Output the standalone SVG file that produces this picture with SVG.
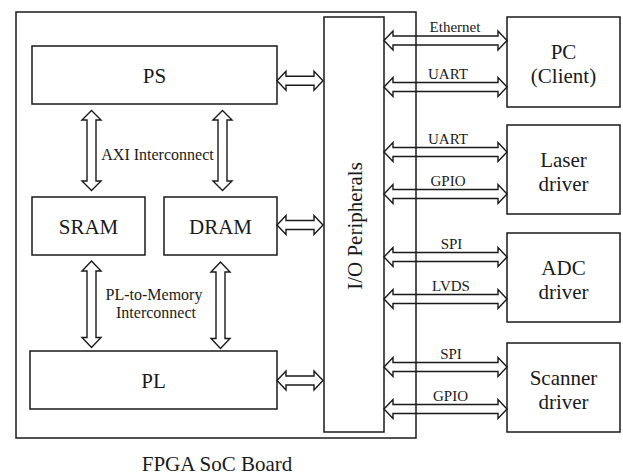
<svg xmlns="http://www.w3.org/2000/svg" xmlns:xlink="http://www.w3.org/1999/xlink" width="623" height="476" viewBox="0 0 623 476">
<style>
.box{fill:none;stroke:#1a1a1a;stroke-width:1.5}
.arr{fill:none;stroke:#1a1a1a;stroke-width:1.4;stroke-linejoin:miter}
text{font-family:'Liberation Serif','DejaVu Serif',serif;fill:#1a1a1a;text-anchor:middle}
.big{font-size:21px}
.lbl{font-size:15px}
.mid{font-size:16px}
</style>
<defs>
<path id="harrR" d="M384,0 L393,-9.5 L393,-4.5 L498,-4.5 L498,-9.5 L507,0 L498,9.5 L498,4.5 L393,4.5 L393,9.5 Z"/>
<path id="harrL" d="M277,0 L286,-9.5 L286,-4.5 L314,-4.5 L314,-9.5 L323,0 L314,9.5 L314,4.5 L286,4.5 L286,9.5 Z"/>
</defs>
<rect width="623" height="476" fill="#ffffff"/>
<g id="board">
<rect class="box" x="16" y="12" width="400" height="426"/>
<text class="big" x="217" y="471">FPGA SoC Board</text>
</g>
<g id="ps"><rect class="box" x="32" y="46" width="245" height="58"/><text class="big" x="154.5" y="83">PS</text></g>
<g id="sram"><rect class="box" x="32" y="197" width="113" height="58"/><text class="big" x="88.5" y="234">SRAM</text></g>
<g id="dram"><rect class="box" x="164" y="197" width="113" height="58"/><text class="big" x="220.5" y="234">DRAM</text></g>
<g id="pl"><rect class="box" x="30" y="351" width="247" height="58"/><text class="big" x="153.5" y="388">PL</text></g>
<g id="io"><rect class="box" x="324" y="17" width="60" height="415"/><text class="big" transform="translate(362,226) rotate(-90)" x="0" y="0">I/O Peripherals</text></g>
<g id="pc"><rect class="box" x="507" y="17" width="113" height="90"/><text class="big" x="563.5" y="59">PC</text><text class="big" x="563.5" y="83">(Client)</text></g>
<g id="laser"><rect class="box" x="507" y="125" width="113" height="89"/><text class="big" x="563.5" y="166.5">Laser</text><text class="big" x="563.5" y="190.5">driver</text></g>
<g id="adc"><rect class="box" x="507" y="233" width="113" height="89"/><text class="big" x="563.5" y="274.5">ADC</text><text class="big" x="563.5" y="298.5">driver</text></g>
<g id="scanner"><rect class="box" x="507" y="343" width="113" height="89"/><text class="big" x="563.5" y="384.5">Scanner</text><text class="big" x="563.5" y="408.5">driver</text></g>
<g id="connectors">
<path class="arr" d="M91.5,110.5 L101,120 L96,120 L96,181 L101,181 L91.5,190.5 L82,181 L87,181 L87,120 L82,120 Z"/>
<path class="arr" d="M222.5,110.5 L232,120 L227,120 L227,181 L232,181 L222.5,190.5 L213,181 L218,181 L218,120 L213,120 Z"/>
<path class="arr" d="M91.5,261 L101,271 L96,271 L96,337.5 L101,337.5 L91.5,347.5 L82,337.5 L87,337.5 L87,271 L82,271 Z"/>
<path class="arr" d="M220.5,262 L230,272 L225,272 L225,338.5 L230,338.5 L220.5,348.5 L211,338.5 L216,338.5 L216,272 L211,272 Z"/>
<use class="arr" href="#harrL" y="80.7"/>
<use class="arr" href="#harrL" y="225"/>
<use class="arr" href="#harrL" y="380.5"/>
<use class="arr" href="#harrR" y="40.5"/>
<use class="arr" href="#harrR" y="87"/>
<use class="arr" href="#harrR" y="152"/>
<use class="arr" href="#harrR" y="194"/>
<use class="arr" href="#harrR" y="257"/>
<use class="arr" href="#harrR" y="299"/>
<use class="arr" href="#harrR" y="367"/>
<use class="arr" href="#harrR" y="409"/>
<text class="mid" x="157.5" y="160">AXI Interconnect</text>
<text class="mid" x="154" y="300">PL-to-Memory</text>
<text class="mid" x="156" y="318">Interconnect</text>
<text class="lbl" x="455" y="31.5">Ethernet</text>
<text class="lbl" x="448" y="79">UART</text>
<text class="lbl" x="448" y="144">UART</text>
<text class="lbl" x="448" y="186">GPIO</text>
<text class="lbl" x="451.5" y="249">SPI</text>
<text class="lbl" x="451" y="291">LVDS</text>
<text class="lbl" x="451" y="359">SPI</text>
<text class="lbl" x="450.5" y="401">GPIO</text>
</g>
</svg>
